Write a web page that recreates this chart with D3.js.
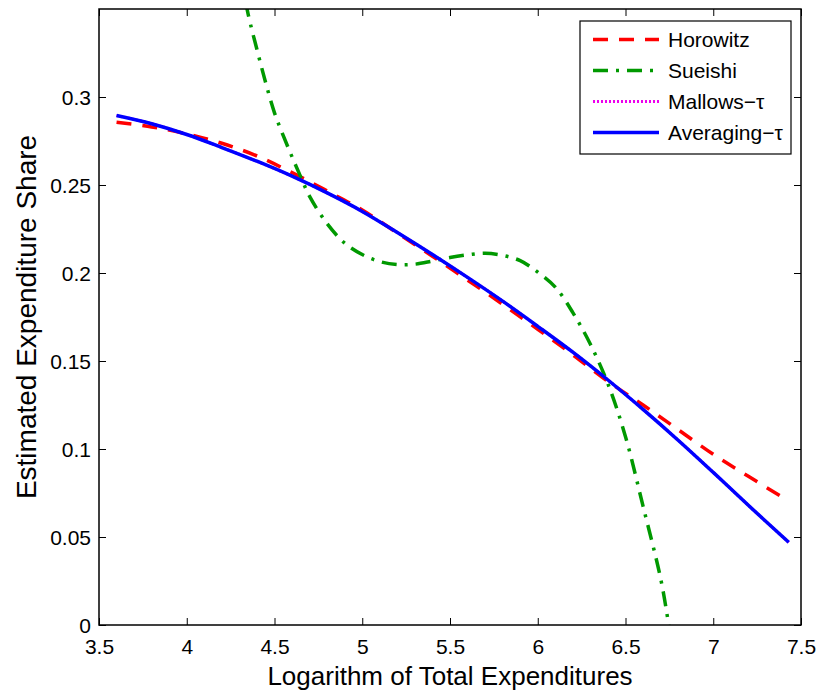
<!DOCTYPE html>
<html><head><meta charset="utf-8">
<script src="https://cdn.jsdelivr.net/npm/d3@7"></script>
<style>body{margin:0;background:#fff}svg{display:block}</style>
</head><body><svg id="c" width="821" height="696"></svg>
<script>
// ---- data ----
const xTicks = [3.5, 4, 4.5, 5, 5.5, 6, 6.5, 7, 7.5];
const xTickLabels = ["3.5", "4", "4.5", "5", "5.5", "6", "6.5", "7", "7.5"];
const yTicks = [0, 0.05, 0.1, 0.15, 0.2, 0.25, 0.3];
const yTickLabels = ["0", "0.05", "0.1", "0.15", "0.2", "0.25", "0.3"];

const horowitzX = [3.6,3.8,4.0,4.2,4.4,4.6,4.8,5.0,5.2,5.4,5.6,5.8,6.0,6.2,6.4,6.6,6.8,7.0,7.2,7.42];
const horowitzY = [0.2857,0.2830,0.2790,0.2737,0.2665,0.2570,0.2466,0.2358,0.2227,0.2095,0.1960,0.1822,0.1680,0.1535,0.1384,0.1250,0.1110,0.0970,0.0845,0.0710];

const sueishiX = [4.30,4.35,4.40,4.45,4.50,4.55,4.60,4.65,4.70,4.80,4.90,5.00,5.10,5.20,5.30,5.40,5.50,5.60,5.70,5.80,5.90,6.00,6.10,6.20,6.30,6.40,6.50,6.60,6.70,6.75,6.80];
const sueishiY = [0.373,0.347,0.327,0.308,0.291,0.278,0.266,0.2545,0.2435,0.228,0.217,0.2105,0.2065,0.2048,0.2050,0.2068,0.2088,0.2103,0.2112,0.2100,0.2070,0.2005,0.1920,0.1775,0.1595,0.1370,0.1070,0.0675,0.0265,-0.002,-0.032];

const mallowsX = [3.6,3.8,4.0,4.2,4.4,4.6,4.8,5.0,5.2,5.4,5.6,5.8,6.0,6.2,6.4,6.6,6.8,7.0,7.2,7.43];
const mallowsY = [0.2895,0.2848,0.2787,0.2713,0.2635,0.2550,0.2455,0.2350,0.2230,0.2105,0.1975,0.1840,0.1697,0.1550,0.1392,0.1225,0.1050,0.0867,0.0680,0.0470];

const averagingX = [3.6,3.8,4.0,4.2,4.4,4.6,4.8,5.0,5.2,5.4,5.6,5.8,6.0,6.2,6.4,6.6,6.8,7.0,7.2,7.43];
const averagingY = [0.2895,0.2848,0.2787,0.2713,0.2635,0.2550,0.2455,0.2350,0.2230,0.2105,0.1975,0.1840,0.1697,0.1550,0.1392,0.1225,0.1050,0.0867,0.0680,0.0470];

const seriesNames = ["Horowitz", "Sueishi", "Mallows\u2212\u03c4", "Averaging\u2212\u03c4"];

// ---- layout ----
const W = 821, H = 696;
const m = {left: 99, right: 20, top: 9, bottom: 71};
const svg = d3.select("#c");
const x = d3.scaleLinear().domain([3.5, 7.5]).range([m.left, W - m.right]);
const y = d3.scaleLinear().domain([0, 0.35]).range([H - m.bottom, m.top]);
const font = "'Liberation Sans', Arial, Helvetica, sans-serif";

svg.append("rect").attr("width", W).attr("height", H).attr("fill", "#fff");

svg.append("clipPath").attr("id", "clip").append("rect")
  .attr("x", m.left).attr("y", m.top)
  .attr("width", W - m.right - m.left).attr("height", H - m.bottom - m.top);

const styles = [
  {color: "#ff0000", dash: "15,11", width: 3.5},
  {color: "#009900", dash: "15,8,3,8", width: 3.5},
  {color: "#ee00ee", dash: "2,2", width: 3},
  {color: "#0000ff", dash: null, width: 3.5}
];
const data = [
  horowitzX.map((v, i) => [v, horowitzY[i]]),
  sueishiX.map((v, i) => [v, sueishiY[i]]),
  mallowsX.map((v, i) => [v, mallowsY[i]]),
  averagingX.map((v, i) => [v, averagingY[i]])
];

const line = d3.line().x(d => x(d[0])).y(d => y(d[1])).curve(d3.curveCatmullRom.alpha(0.5));
const g = svg.append("g").attr("clip-path", "url(#clip)");
data.forEach((d, i) => {
  g.append("path").datum(d).attr("d", line)
    .attr("fill", "none").attr("stroke", styles[i].color)
    .attr("stroke-width", styles[i].width)
    .attr("stroke-dasharray", styles[i].dash);
});

// ---- axes ----
const xAxisB = d3.axisBottom(x).tickValues(xTicks).tickFormat((d, i) => xTickLabels[i]).tickSizeInner(-7).tickSizeOuter(0).tickPadding(14);
const xAxisT = d3.axisTop(x).tickValues(xTicks).tickFormat("").tickSizeInner(-7).tickSizeOuter(0);
const yAxisL = d3.axisLeft(y).tickValues(yTicks).tickFormat((d, i) => yTickLabels[i]).tickSizeInner(-7).tickSizeOuter(0).tickPadding(8);
const yAxisR = d3.axisRight(y).tickValues(yTicks).tickFormat("").tickSizeInner(-7).tickSizeOuter(0);

function style(sel) {
  sel.selectAll("path.domain").remove();
  sel.selectAll("line").attr("stroke", "#000").attr("stroke-width", 1);
  sel.selectAll("text").attr("font-family", font).attr("font-size", 21).attr("fill", "#000");
}
svg.append("g").attr("transform", `translate(0,${H - m.bottom})`).call(xAxisB).call(style);
svg.append("g").attr("transform", `translate(0,${m.top})`).call(xAxisT).call(style);
svg.append("g").attr("transform", `translate(${m.left},0)`).call(yAxisL).call(style)
  .selectAll("text").attr("dy", "0.36em");
svg.append("g").attr("transform", `translate(${W - m.right},0)`).call(yAxisR).call(style);

svg.append("rect").attr("x", m.left).attr("y", m.top)
  .attr("width", W - m.right - m.left).attr("height", H - m.bottom - m.top)
  .attr("fill", "none").attr("stroke", "#000").attr("stroke-width", 1.5);

// ---- axis titles ----
svg.append("text").attr("x", (m.left + W - m.right) / 2).attr("y", 685)
  .attr("text-anchor", "middle").attr("font-family", font).attr("font-size", 26)
  .text("Logarithm of Total Expenditures");
svg.append("text").attr("transform", `translate(36,${(m.top + H - m.bottom) / 2}) rotate(-90)`)
  .attr("text-anchor", "middle").attr("font-family", font).attr("font-size", 28)
  .text("Estimated Expenditure Share");

// ---- legend ----
const lg = svg.append("g");
lg.append("rect").attr("x", 580).attr("y", 21).attr("width", 211).attr("height", 133)
  .attr("fill", "#fff").attr("stroke", "#000").attr("stroke-width", 1.2);
seriesNames.forEach((name, i) => {
  const cy = 39.5 + i * 31;
  lg.append("line").attr("x1", 593).attr("x2", 659).attr("y1", cy).attr("y2", cy)
    .attr("stroke", styles[i].color).attr("stroke-width", styles[i].width)
    .attr("stroke-dasharray", styles[i].dash);
  lg.append("text").attr("x", 668).attr("y", cy).attr("dy", "0.36em")
    .attr("font-family", font).attr("font-size", 21).text(name);
});
</script>
</body></html>
